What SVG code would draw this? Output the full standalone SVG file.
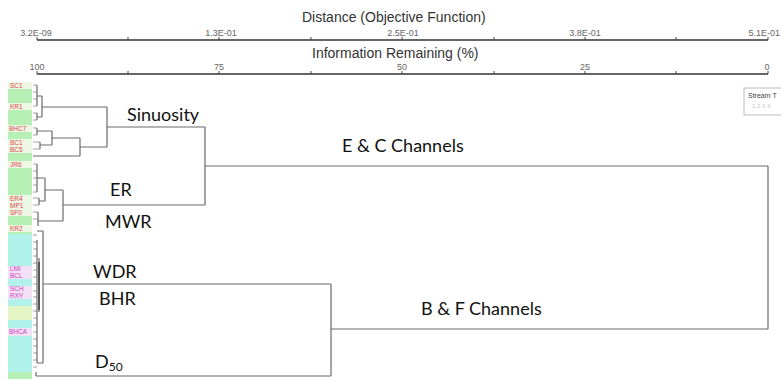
<svg xmlns="http://www.w3.org/2000/svg" width="781" height="379" viewBox="0 0 781 379">
<style>
.ax{stroke:#333;stroke-width:1.5;fill:none}
.tk{stroke:#444;stroke-width:1;fill:none}
.ttl{font-family:"Liberation Sans",Arial,sans-serif;font-size:14px;fill:#333}
.tl{font-family:"Liberation Sans",Arial,sans-serif;font-size:9px;fill:#666;text-anchor:middle}
.big{font-family:Lato,"Open Sans",sans-serif;font-size:18px;fill:#111}
.ln{stroke:#6a6a6a;stroke-width:1.2;fill:none}
.lf{stroke:#8a8a8a;stroke-width:0.8;fill:none}
.lab{font-family:"Liberation Sans",Arial,sans-serif;font-size:6.5px}
.r{fill:#e04848}.m{fill:#d040c0}
.bg{fill:#b6f0b4}.bc{fill:#b0f2ea}.bw{fill:#eef6e4}.bm{fill:#f2e0f4}.by{fill:#e4f4c4}
</style>
<rect width="781" height="379" fill="#ffffff"/>

<g id="axis-distance">
<text class="ttl" x="302" y="22">Distance (Objective Function)</text>
<line class="ax" x1="37" y1="40" x2="768" y2="40"/>
<path class="tk" d="M37 37V40M128 37V40M219 37V40M311 37V40M402 37V40M494 37V40M585 37V40M676 37V40M768 37V40"/>
<text class="tl" x="36" y="36">3.2E-09</text>
<text class="tl" x="221" y="36">1.3E-01</text>
<text class="tl" x="403" y="36">2.5E-01</text>
<text class="tl" x="585" y="36">3.8E-01</text>
<text class="tl" x="780" y="36" text-anchor="end" style="text-anchor:end">5.1E-01</text>
</g>

<g id="axis-information">
<text class="ttl" x="312" y="58">Information Remaining (%)</text>
<line class="ax" x1="37" y1="74" x2="768" y2="74"/>
<path class="tk" d="M37 71V74M128 71V74M219 71V74M311 71V74M402 71V74M494 71V74M585 71V74M676 71V74M768 71V74"/>
<text class="tl" x="37" y="70">100</text>
<text class="tl" x="219" y="70">75</text>
<text class="tl" x="402" y="70">50</text>
<text class="tl" x="585" y="70">25</text>
<text class="tl" x="767" y="70">0</text>
</g>

<g id="leaf-labels">
<rect class="bg" x="8" y="82" width="24" height="152"/>
<rect class="bc" x="8" y="234" width="24" height="138"/>
<rect class="bg" x="8" y="372" width="24" height="7"/>
<rect class="bw" x="8" y="82" width="24" height="7"/>
<rect class="bw" x="8" y="103" width="24" height="7"/>
<rect class="bw" x="8" y="125" width="24" height="7"/>
<rect class="bw" x="8" y="139" width="24" height="14"/>
<rect class="bw" x="8" y="161" width="24" height="7"/>
<rect class="bw" x="8" y="195" width="24" height="21"/>
<rect class="bw" x="8" y="225" width="24" height="7"/>
<rect class="bm" x="8" y="266" width="24" height="13"/>
<rect class="bm" x="8" y="286" width="24" height="13"/>
<rect class="by" x="8" y="306" width="24" height="14"/>
<rect class="bm" x="8" y="328" width="24" height="8"/>
<text class="lab r" x="10" y="88">SC1</text>
<text class="lab r" x="10" y="109">KR1</text>
<text class="lab r" x="9" y="131">BHC7</text>
<text class="lab r" x="10" y="145">BC1</text>
<text class="lab r" x="10" y="152">BC5</text>
<text class="lab r" x="10" y="167">JR6</text>
<text class="lab r" x="10" y="201">ER4</text>
<text class="lab r" x="10" y="208">MP1</text>
<text class="lab r" x="10" y="215">SF0</text>
<text class="lab r" x="10" y="231">KR2</text>
<text class="lab m" x="10" y="271">LMI</text>
<text class="lab m" x="10" y="278">BCL</text>
<text class="lab m" x="10" y="291">SCH</text>
<text class="lab m" x="10" y="298">RXY</text>
<text class="lab m" x="9" y="334">BHCA</text>
</g>

<g id="legend">
<rect x="744" y="88" width="40" height="27" fill="#fff" stroke="#bbb" stroke-width="1"/>
<text x="748" y="98" font-family="Liberation Sans,Arial,sans-serif" font-size="7" fill="#444">Stream T</text>
<text x="752" y="108" font-family="Liberation Sans,Arial,sans-serif" font-size="6" fill="#c8c8c8">1 2 3 4</text>
</g>

<g id="connectors">
<path class="lf" d="M33 85H37M33 92H37M33 99H37M33 106H37M33 113H37M33 120H37M33 128H37M33 135H37M33 142H40M33 149H40M33 164H37M33 171H37M33 178H37M33 185H37M33 192H37M33 198H39M33 205H39M33 212H38M33 219H38"/>
<path class="ln" d="M37 85V106M37 113V120M37 96H42M37 117H42M42 96V117M42 107H107"/>
<path class="ln" d="M37 128V135M40 142V149M37 131H52M40 145H52M52 131V145M52 138H80M33 156H80M80 138V156M80 147H107"/>
<path class="ln" d="M107 107V147M107 127H205"/>
<path class="ln" d="M37 164V192M39 198V205M37 178H45M39 201H45M45 178V201M45 190H63M38 212V226M38 221H63M63 190V221M63 205H205"/>
<path class="ln" d="M205 127V205M205 166H768"/>
<path class="lf" d="M33 235H37M33 242H37M33 249H37M33 256H37M33 263H37M33 270H37M33 277H37M33 284H37M33 291H37M33 297H37M33 304H37M33 311H37M33 318H37M33 325H37M33 332H37M33 339H37M33 346H37M33 353H37M33 360H37M33 367H37"/>
<path class="ln" d="M37 231H43M37 240V363M39 258V312M37 363H43M43 231V363M43 284H331"/>
<path stroke="#444" stroke-width="1.6" fill="none" d="M39 262V310"/>
<path class="ln" d="M36 372V376M36 376H331M331 284V376M331 329H768M768 166V329"/>
</g>

<g id="cluster-labels">
<text class="big" x="127" y="121">Sinuosity</text>
<text class="big" x="342" y="152">E &amp; C Channels</text>
<text class="big" x="110" y="196">ER</text>
<text class="big" x="105" y="228">MWR</text>
<text class="big" x="93" y="278">WDR</text>
<text class="big" x="99" y="305">BHR</text>
<text class="big" x="95" y="368">D<tspan font-size="12" dy="3">50</tspan></text>
<text class="big" x="421" y="315">B &amp; F Channels</text>
</g>
</svg>
